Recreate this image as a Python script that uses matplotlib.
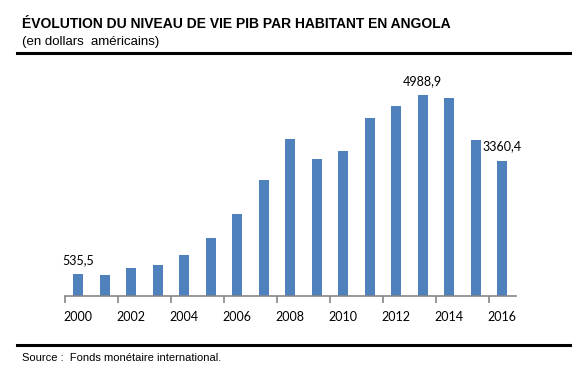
import matplotlib
matplotlib.use("Agg")
import matplotlib.pyplot as plt
from matplotlib.lines import Line2D

years = list(range(2000, 2017))
values = [535.5, 500, 680, 750, 1000, 1420, 2040, 2870, 3890, 3390, 3590,
          4410, 4730, 4988.9, 4910, 3860, 3360.4]
labelled = {2000: "535,5", 2013: "4988,9", 2016: "3360,4"}
tick_years = [2000, 2002, 2004, 2006, 2008, 2010, 2012, 2014, 2016]

W, H = 572, 369
fig = plt.figure(figsize=(W / 100, H / 100), dpi=100)

# axes in pixel coords: left 65, right 515.5, bottom 295.5, top 70
ax = fig.add_axes([65 / W, 1 - 295.5 / H, 450.5 / W, 225.5 / H])
x = list(range(len(years)))
ax.bar(x, values, width=0.38, color="#4F81BD", zorder=2)
ax.set_xlim(-0.5, len(years) - 0.5)
ax.set_ylim(0, 225.5 * 24.9)
for s in ["top", "right", "left"]:
    ax.spines[s].set_visible(False)
ax.spines["bottom"].set_color("#868686")
ax.spines["bottom"].set_linewidth(1.2)
ax.set_yticks([])

# major ticks: marks at category boundaries (left of even years)
bounds = [years.index(y) - 0.5 for y in tick_years]
ax.set_xticks(bounds)
ax.set_xticklabels([])
ax.tick_params(axis="x", which="major", length=5, width=1.2, color="#868686", direction="out")
# minor ticks for labels at bar centers
ax.set_xticks([years.index(y) for y in tick_years], minor=True)
ax.set_xticklabels([str(y) for y in tick_years], minor=True, fontsize=9, family="Lato")
ax.tick_params(axis="x", which="minor", length=0, pad=11)

for yr, txt in labelled.items():
    i = years.index(yr)
    ax.annotate(txt, (i, values[i]), xytext=(0, 6), textcoords="offset points",
                ha="center", va="bottom", fontsize=9, family="Lato")

fig.text(22 / W, 1 - 27.5 / H, "ÉVOLUTION DU NIVEAU DE VIE PIB PAR HABITANT EN ANGOLA",
         fontsize=10, fontweight="bold", family="Liberation Sans", ha="left", va="baseline")
fig.text(22 / W, 1 - 44.5 / H, "(en dollars  américains)",
         fontsize=9.5, family="Liberation Sans", ha="left", va="baseline")
fig.text(22 / W, 1 - 361 / H, "Source :  Fonds monétaire international.",
         fontsize=8, family="Liberation Sans", ha="left", va="baseline")

for yy in [53, 344.5]:
    fig.add_artist(Line2D([17 / W, 1], [1 - yy / H, 1 - yy / H], color="black", linewidth=2.2,
                          transform=fig.transFigure))

fig.savefig("out.png", dpi=100)
